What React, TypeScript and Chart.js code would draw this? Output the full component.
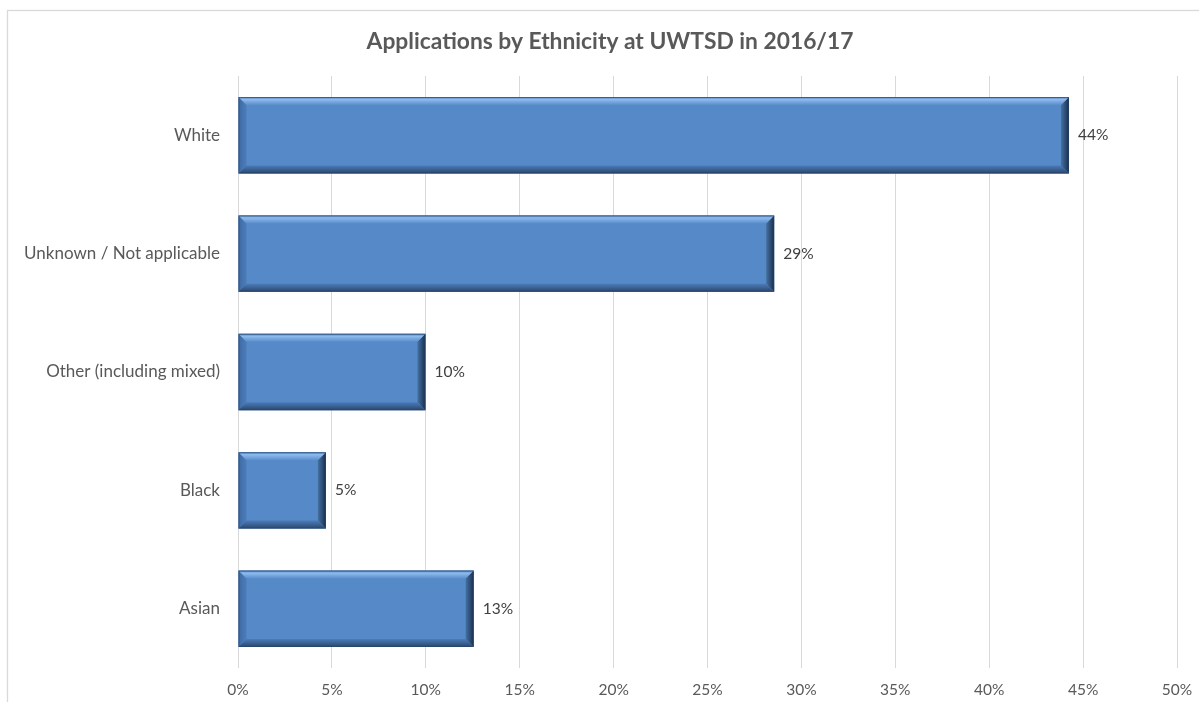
import React, { useEffect, useRef } from "react";
import { Chart, registerables } from "chart.js";

Chart.register(...registerables);

const categories = ["White", "Unknown / Not applicable", "Other (including mixed)", "Black", "Asian"];
const values = [44.25, 28.55, 9.98, 4.68, 12.55];
const valueLabels = ["44%", "29%", "10%", "5%", "13%"];
const xMin = 0;
const xMax = 50;
const xStep = 5;
const chartTitle = "Applications by Ethnicity at UWTSD in 2016/17";

const FONT = "Lato, 'Open Sans', sans-serif";
const TEXT = "#595959";

function poly(ctx: CanvasRenderingContext2D, pts: number[][], fill: any) {
  ctx.beginPath();
  ctx.moveTo(pts[0][0], pts[0][1]);
  for (let i = 1; i < pts.length; i++) ctx.lineTo(pts[i][0], pts[i][1]);
  ctx.closePath();
  ctx.fillStyle = fill;
  ctx.fill();
}

const framePlugin = {
  id: "frame",
  beforeDraw(chart: any) {
    const ctx = chart.ctx;
    ctx.save();
    ctx.fillStyle = "#ffffff";
    ctx.fillRect(0, 0, chart.width, chart.height);
    ctx.strokeStyle = "#d9d9d9";
    ctx.lineWidth = 1.3;
    ctx.strokeRect(7.5, 10.5, chart.width + 20, chart.height + 20);
    ctx.restore();
  },
  afterDraw(chart: any) {
    const ctx = chart.ctx;
    ctx.save();
    ctx.font = `bold 22.8px ${FONT}`;
    ctx.fillStyle = TEXT;
    ctx.textAlign = "center";
    ctx.textBaseline = "middle";
    ctx.fillText(chartTitle, 610, 42);
    ctx.restore();
  },
};

const bevelPlugin = {
  id: "bevel",
  afterDatasetsDraw(chart: any) {
    const ctx: CanvasRenderingContext2D = chart.ctx;
    const meta = chart.getDatasetMeta(0);
    ctx.save();
    meta.data.forEach((bar: any, i: number) => {
      const p = bar.getProps(["x", "y", "base", "height"], true);
      const L = Math.min(p.base, p.x);
      const R = Math.max(p.base, p.x);
      const T = p.y - p.height / 2;
      const B = p.y + p.height / 2;
      const b = Math.min(8, (R - L) / 2, p.height / 2);
      // left bevel
      let g = ctx.createLinearGradient(L, 0, L + b, 0);
      g.addColorStop(0, "#3d6aa2");
      g.addColorStop(1, "#4d7dba");
      poly(ctx, [[L, T], [L + b, T + b], [L + b, B - b], [L, B]], g);
      // right bevel
      g = ctx.createLinearGradient(R - b, 0, R, 0);
      g.addColorStop(0, "#44719f");
      g.addColorStop(0.6, "#2b4a73");
      g.addColorStop(1, "#182c45");
      poly(ctx, [[R, T], [R, B], [R - b, B - b], [R - b, T + b]], g);
      // top bevel
      g = ctx.createLinearGradient(0, T, 0, T + b);
      g.addColorStop(0, "#4a78b2");
      g.addColorStop(0.3, "#8fbcee");
      g.addColorStop(0.6, "#77a7e0");
      g.addColorStop(1, "#5a8dcb");
      poly(ctx, [[L, T], [R, T], [R - b, T + b], [L + b, T + b]], g);
      // bottom bevel
      g = ctx.createLinearGradient(0, B - b, 0, B);
      g.addColorStop(0, "#4b7bb8");
      g.addColorStop(0.5, "#3b6294");
      g.addColorStop(1, "#2a4569");
      poly(ctx, [[L, B], [R, B], [R - b, B - b], [L + b, B - b]], g);
      // outline
      ctx.strokeStyle = "rgba(40,70,110,0.6)";
      ctx.lineWidth = 1;
      ctx.strokeRect(L + 0.5, T + 0.5, R - L - 1, B - T - 1);
      // value label
      ctx.font = `15.5px ${FONT}`;
      ctx.fillStyle = "#404040";
      ctx.textAlign = "left";
      ctx.textBaseline = "middle";
      ctx.fillText(valueLabels[i], R + 9, p.y);
    });
    ctx.restore();
  },
};

export default function App() {
  const ref = useRef<HTMLCanvasElement | null>(null);
  useEffect(() => {
    if (!ref.current) return;
    const chart = new Chart(ref.current, {
      type: "bar",
      data: {
        labels: categories,
        datasets: [
          {
            data: values,
            backgroundColor: "#5589c8",
            borderWidth: 0,
            barPercentage: 0.645,
            categoryPercentage: 1,
          },
        ],
      },
      options: {
        indexAxis: "y",
        responsive: false,
        animation: false,
        devicePixelRatio: 1,
        layout: { padding: { top: 76, right: 22, bottom: 0, left: 0 } },
        plugins: {
          legend: { display: false },
          title: { display: false },
          tooltip: { enabled: false },
        },
        scales: {
          x: {
            min: xMin,
            max: xMax,
            ticks: {
              stepSize: xStep,
              callback: (v: any) => `${v}%`,
              color: TEXT,
              font: { family: FONT, size: 15.5 },
              padding: 13,
              maxRotation: 0,
            },
            grid: { color: "#d9d9d9", drawTicks: false, lineWidth: 1 },
            border: { display: false },
            afterFit: (s: any) => {
              s.height = 34;
              s.paddingLeft = 0;
              s.paddingRight = 0;
            },
          },
          y: {
            ticks: {
              color: TEXT,
              font: { family: FONT, size: 17 },
              padding: 18,
            },
            grid: { display: false, drawTicks: false },
            border: { display: false },
            afterFit: (s: any) => {
              s.width = 238;
              s.paddingTop = 0;
              s.paddingBottom = 0;
            },
          },
        },
      },
      plugins: [framePlugin, bevelPlugin],
    });
    return () => chart.destroy();
  }, []);
  return (
    <canvas
      ref={ref}
      width={1199}
      height={702}
      style={{ position: "fixed", left: 0, top: 0, display: "block" }}
    />
  );
}
